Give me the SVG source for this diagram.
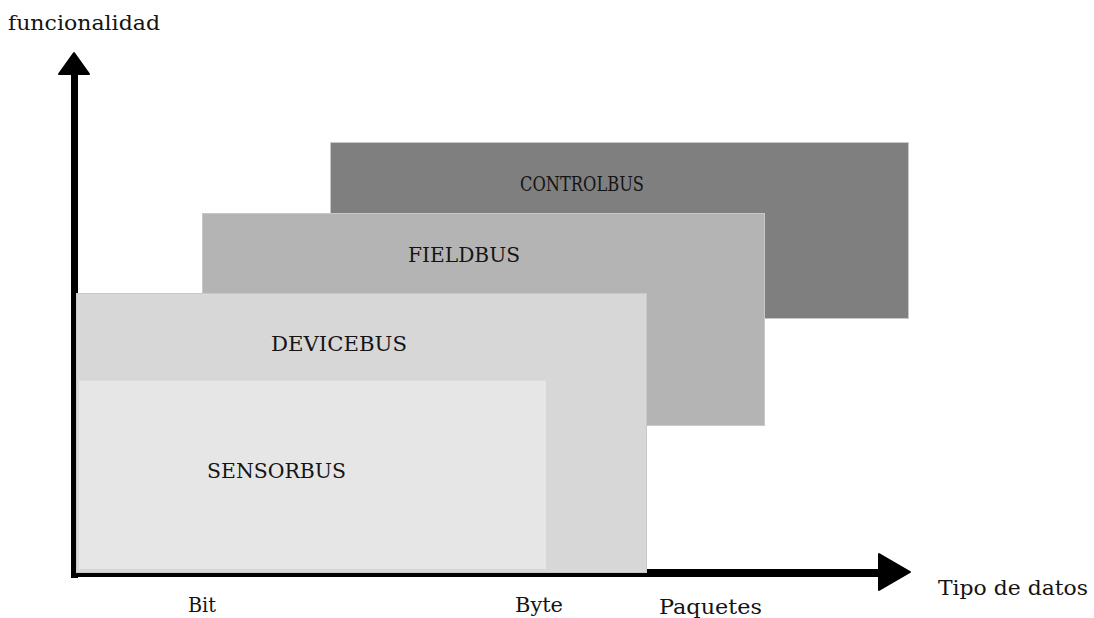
<svg xmlns="http://www.w3.org/2000/svg" width="1094" height="618" viewBox="0 0 1094 618">
  <style>
    text { font-family: "DejaVu Serif", "Liberation Serif", serif; fill: #141414; font-size: 21px; }
    .bus { stroke: #c8c8c8; stroke-width: 1; }
    .axis { fill: #000; stroke: #000; stroke-width: 2; stroke-linejoin: round; }
  </style>
  <rect width="1094" height="618" fill="#ffffff"/>

  <!-- layered bus levels, back to front -->
  <g id="controlbus">
    <rect class="bus" x="330.5" y="142.5" width="578" height="176" fill="#7f7f7f"/>
    <text x="520" y="191" textLength="124" lengthAdjust="spacingAndGlyphs">CONTROLBUS</text>
  </g>
  <g id="fieldbus">
    <rect class="bus" x="202.5" y="213.5" width="562" height="212" fill="#b4b4b4"/>
    <text x="408" y="262" textLength="112" lengthAdjust="spacingAndGlyphs">FIELDBUS</text>
  </g>

  <!-- axes -->
  <g id="axes">
    <rect x="71" y="70" width="7" height="508" fill="#000"/>
    <polygon class="axis" points="74,53 59,74 89,74"/>
    <rect x="72" y="569" width="810" height="8" fill="#000"/>
    <polygon class="axis" points="910,572 879,554 879,590"/>
  </g>

  <g id="devicebus">
    <rect class="bus" x="76.5" y="293.5" width="570" height="279" fill="#d7d7d7"/>
    <text x="271" y="351" textLength="136" lengthAdjust="spacingAndGlyphs">DEVICEBUS</text>
  </g>
  <g id="sensorbus">
    <rect x="79" y="380" width="467" height="189" fill="#e6e6e6"/>
    <line x1="79" y1="380.5" x2="546" y2="380.5" stroke="#dcdcdc"/>
    <text x="207" y="478" textLength="139" lengthAdjust="spacingAndGlyphs">SENSORBUS</text>
  </g>

  <!-- axis labels -->
  <g id="labels">
    <text x="8" y="30" textLength="152" lengthAdjust="spacingAndGlyphs">funcionalidad</text>
    <text x="938" y="595" textLength="150" lengthAdjust="spacingAndGlyphs">Tipo de datos</text>
    <text x="188" y="612" textLength="28" lengthAdjust="spacingAndGlyphs">Bit</text>
    <text x="515" y="612" textLength="48" lengthAdjust="spacingAndGlyphs">Byte</text>
    <text x="659" y="614" textLength="103" lengthAdjust="spacingAndGlyphs">Paquetes</text>
  </g>
</svg>
